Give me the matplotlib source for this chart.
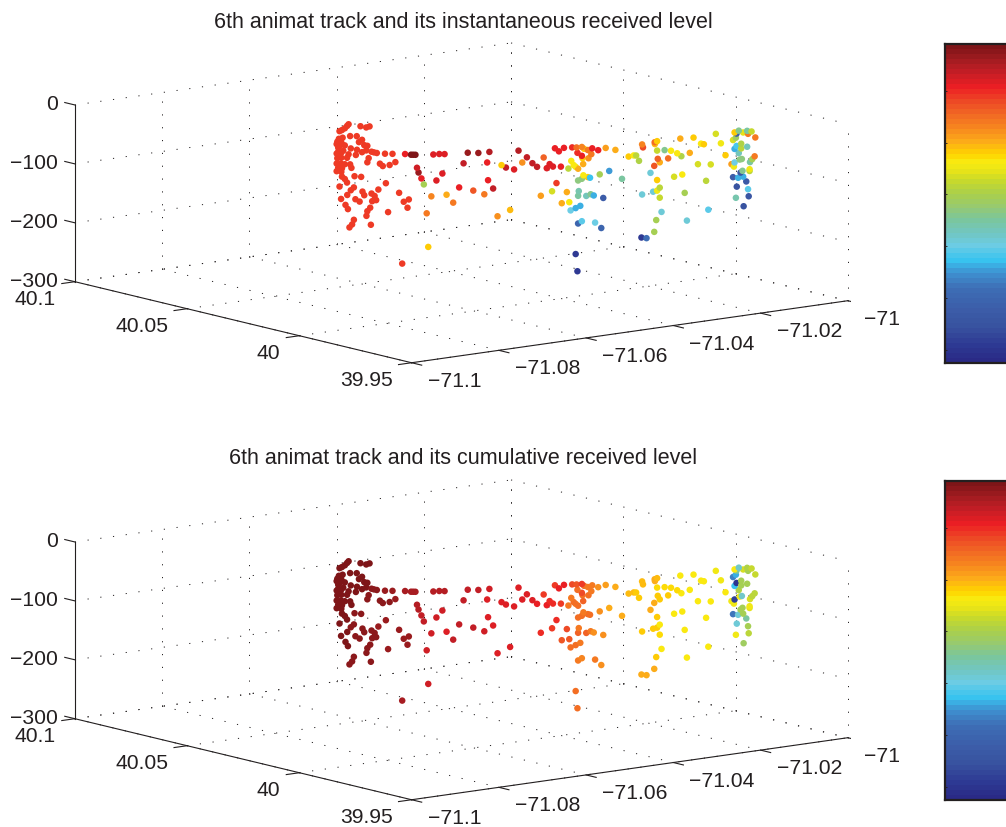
#!/usr/bin/env python
# animat track plots, two 3D scatter panels with jet style colorbars
import matplotlib
matplotlib.use('Agg')
import numpy as np
import matplotlib.pyplot as plt
from matplotlib.colors import LinearSegmentedColormap
from mpl_toolkits.mplot3d import proj3d

plt.rcParams['font.family'] = ['Liberation Sans', 'DejaVu Sans']

lon_ticks = [-71.1, -71.08, -71.06, -71.04, -71.02, -71.0]
lon_labels = ['\u221271.1', '\u221271.08', '\u221271.06', '\u221271.04', '\u221271.02', '\u221271']
lat_ticks = [40.1, 40.05, 40.0, 39.95]
lat_labels = ['40.1', '40.05', '40', '39.95']
depth_ticks = [0, -100, -200, -300]
depth_labels = ['0', '\u2212100', '\u2212200', '\u2212300']
bar_ticks = [0.04, 0.203, 0.366, 0.53, 0.69, 0.853]

# track positions, same for both panels
lon = [-71.0707, -71.0709, -71.0712, -71.0716, -71.0719, -71.0691, -71.0683, -71.0679, -71.0705, -71.0696,
       -71.0715, -71.0720, -71.0722, -71.0717, -71.0723, -71.0719, -71.0716, -71.0712, -71.0721, -71.0689,
       -71.0693, -71.0686, -71.0682, -71.0704, -71.0696, -71.0714, -71.0721, -71.0717, -71.0723, -71.0697,
       -71.0689, -71.0683, -71.0676, -71.0673, -71.0669, -71.0658, -71.0648, -71.0631, -71.0623, -71.0620,
       -71.0617, -71.0593, -71.0585, -71.0578, -71.0707, -71.0709, -71.0722, -71.0717, -71.0723, -71.0717,
       -71.0712, -71.0705, -71.0703, -71.0721, -71.0716, -71.0723, -71.0717, -71.0680, -71.0682, -71.0665,
       -71.0661, -71.0652, -71.0644, -71.0615, -71.0613, -71.0609, -71.0606, -71.0581, -71.0589, -71.0716,
       -71.0712, -71.0709, -71.0699, -71.0690, -71.0657, -71.0719, -71.0700, -71.0704, -71.0709, -71.0667,
       -71.0688, -71.0686, -71.0676, -71.0672, -71.0717, -71.0698, -71.0692, -71.0670, -71.0675, -71.0639,
       -71.0633, -71.0626, -71.0628, -71.0711, -71.0708, -71.0678, -71.0682, -71.0683, -71.0654, -71.0700,
       -71.0702, -71.0706, -71.0677, -71.0596, -71.0575, -71.0602, -71.0600, -71.0635,
       # middle section
       -71.0547, -71.0533, -71.0518, -71.0479, -71.0468, -71.0445, -71.0553, -71.0521, -71.0502, -71.0474,
       -71.0460, -71.0496, -71.0485, -71.0454, -71.0520, -71.0559, -71.0540, -71.0513, -71.0525, -71.0567,
       -71.0507, -71.0490,
       -71.0430, -71.0425, -71.0418, -71.0407, -71.0401, -71.0394, -71.0391, -71.0386, -71.0400, -71.0394,
       -71.0380, -71.0372, -71.0362, -71.0349, -71.0381, -71.0385, -71.0393, -71.0437, -71.0441, -71.0433,
       -71.0422, -71.0408, -71.0405, -71.0402, -71.0412, -71.0399, -71.0392, -71.0392, -71.0386, -71.0383,
       -71.0370, -71.0357, -71.0340, -71.0399, -71.0394, -71.0428, -71.0434, -71.0414, -71.0449, -71.0398,
       -71.0399, -71.0388, -71.0382, -71.0378, -71.0365, -71.0421, -71.0411, -71.0396, -71.0402, -71.0409,
       -71.0399, -71.0394, -71.0376, -71.0368, -71.0402, -71.0400, -71.0314, -71.0307, -71.0313, -71.0312,
       -71.0331, -71.0324, -71.0321, -71.0317, -71.0313,
       # eastern section
       -71.0296, -71.0293, -71.0296, -71.0262, -71.0244, -71.0214, -71.0234, -71.0230, -71.0207,
       -71.0293, -71.0283, -71.0274, -71.0266, -71.0260, -71.0249, -71.0201,
       -71.0292, -71.0289, -71.0278, -71.0297, -71.0302, -71.0238, -71.0221, -71.0259, -71.0270, -71.0293,
       -71.0227, -71.0289, -71.0293, -71.0298, -71.0256, -71.0289, -71.0287, -71.0294, -71.0253, -71.0224,
       -71.0297,
       # cluster at the end
       -71.0189, -71.0183, -71.0186, -71.0177, -71.0172, -71.0166, -71.0171, -71.0161, -71.0191, -71.0187,
       -71.0180, -71.0186, -71.0172, -71.0189, -71.0180, -71.0183, -71.0162, -71.0165, -71.0168, -71.0182,
       -71.0179, -71.0189, -71.0193, -71.0190, -71.0169, -71.0169, -71.0181, -71.0178, -71.0191, -71.0184,
       -71.0177, -71.0173, -71.0186, -71.0171, -71.0170, -71.0187, -71.0177]

lat = [40.0350, 40.0353, 40.0357, 40.0362, 40.0367, 40.0328, 40.0318, 40.0311, 40.0347, 40.0335,
       40.0361, 40.0368, 40.0371, 40.0364, 40.0372, 40.0367, 40.0362, 40.0357, 40.0369, 40.0325,
       40.0331, 40.0321, 40.0315, 40.0346, 40.0334, 40.0360, 40.0369, 40.0364, 40.0372, 40.0337,
       40.0325, 40.0318, 40.0308, 40.0303, 40.0298, 40.0283, 40.0269, 40.0246, 40.0235, 40.0231,
       40.0227, 40.0194, 40.0183, 40.0173, 40.0350, 40.0353, 40.0371, 40.0363, 40.0372, 40.0364,
       40.0357, 40.0347, 40.0345, 40.0369, 40.0362, 40.0372, 40.0363, 40.0313, 40.0315, 40.0292,
       40.0287, 40.0274, 40.0264, 40.0224, 40.0221, 40.0216, 40.0211, 40.0177, 40.0188, 40.0362,
       40.0357, 40.0353, 40.0339, 40.0327, 40.0281, 40.0367, 40.0340, 40.0346, 40.0352, 40.0295,
       40.0325, 40.0321, 40.0308, 40.0302, 40.0364, 40.0337, 40.0330, 40.0299, 40.0307, 40.0257,
       40.0248, 40.0239, 40.0241, 40.0356, 40.0351, 40.0310, 40.0315, 40.0317, 40.0277, 40.0340,
       40.0344, 40.0348, 40.0309, 40.0197, 40.0170, 40.0206, 40.0203, 40.0251,
       # middle section
       40.0130, 40.0110, 40.0090, 40.0036, 40.0020, 39.9990, 40.0137, 40.0094, 40.0067, 40.0029,
       40.0011, 40.0059, 40.0044, 40.0002, 40.0092, 40.0145, 40.0119, 40.0083, 40.0099, 40.0156,
       40.0075, 40.0052,
       39.9969, 39.9961, 39.9952, 39.9937, 39.9929, 39.9919, 39.9915, 39.9908, 39.9927, 39.9919,
       39.9900, 39.9889, 39.9875, 39.9857, 39.9902, 39.9907, 39.9918, 39.9979, 39.9984, 39.9972,
       39.9958, 39.9939, 39.9934, 39.9931, 39.9944, 39.9926, 39.9917, 39.9916, 39.9908, 39.9904,
       39.9886, 39.9869, 39.9845, 39.9926, 39.9919, 39.9966, 39.9974, 39.9947, 39.9995, 39.9925,
       39.9926, 39.9911, 39.9903, 39.9897, 39.9880, 39.9956, 39.9942, 39.9922, 39.9931, 39.9940,
       39.9926, 39.9919, 39.9895, 39.9883, 39.9931, 39.9927, 39.9809, 39.9800, 39.9808, 39.9806,
       39.9833, 39.9824, 39.9819, 39.9814, 39.9808,
       # eastern section
       39.9785, 39.9780, 39.9784, 39.9737, 39.9713, 39.9672, 39.9699, 39.9694, 39.9663,
       39.9780, 39.9766, 39.9755, 39.9743, 39.9736, 39.9720, 39.9654,
       39.9779, 39.9776, 39.9760, 39.9785, 39.9792, 39.9705, 39.9681, 39.9734, 39.9749, 39.9780,
       39.9690, 39.9776, 39.9780, 39.9788, 39.9729, 39.9776, 39.9772, 39.9782, 39.9725, 39.9686,
       39.9785,
       # cluster at the end
       39.9637, 39.9630, 39.9634, 39.9622, 39.9614, 39.9606, 39.9612, 39.9599, 39.9640, 39.9635,
       39.9625, 39.9634, 39.9614, 39.9637, 39.9625, 39.9630, 39.9600, 39.9605, 39.9609, 39.9628,
       39.9624, 39.9637, 39.9643, 39.9638, 39.9609, 39.9609, 39.9626, 39.9623, 39.9640, 39.9631,
       39.9622, 39.9616, 39.9633, 39.9612, 39.9611, 39.9635, 39.9620]

depth = [-4, -7, -11, -14, -16, -7, -9, -7, -24, -24,
         -27, -29, -34, -34, -38, -41, -38, -40, -44, -30,
         -34, -39, -40, -45, -47, -49, -51, -53, -54, -56,
         -51, -48, -50, -51, -52, -53, -53, -53, -54, -54,
         -54, -53, -52, -52, -55, -61, -62, -61, -71, -71,
         -72, -72, -78, -78, -79, -84, -85, -61, -68, -70,
         -74, -72, -67, -76, -84, -94, -104, -85, -97, -93,
         -97, -103, -92, -93, -103, -110, -111, -116, -124, -114,
         -118, -124, -121, -125, -131, -131, -135, -132, -134, -119,
         -134, -130, -144, -141, -148, -145, -151, -159, -152, -166,
         -174, -179, -174, -124, -121, -153, -210, -239,
         # middle section
         -49, -49, -47, -44, -55, -55, -67, -65, -69, -64,
         -65, -73, -76, -71, -95, -108, -113, -109, -119, -134,
         -156, -145,
         -39, -44, -38, -37, -37, -36, -39, -41, -46, -51,
         -38, -41, -37, -40, -48, -55, -55, -66, -73, -70,
         -70, -60, -67, -70, -73, -73, -65, -84, -87, -88,
         -82, -76, -89, -93, -90, -98, -112, -113, -120, -111,
         -119, -119, -116, -118, -122, -132, -130, -136, -140, -144,
         -166, -162, -164, -173, -218, -247, -188, -189, -30, -35,
         -51, -49, -49, -58, -115,
         # eastern section
         -26, -24, -29, -19, -17, -10, -27, -28, -26,
         -40, -39, -40, -44, -49, -43, -46,
         -54, -60, -53, -66, -78, -62, -62, -80, -84, -90,
         -90, -103, -108, -110, -111, -120, -144, -158, -158, -139,
         -178,
         # cluster at the end
         -7, -4, -9, -7, -4, -5, -9, -15, -20, -16,
         -26, -30, -31, -35, -34, -42, -47, -52, -57, -53,
         -52, -58, -61, -65, -69, -72, -75, -72, -83, -84,
         -82, -90, -99, -103, -115, -118, -132]

# colour values read against the colorbar (0 bottom, 1 top)
inst_level = [.84, .84, .84, .84, .84, .84, .84, .84, .84, .84,
              .84, .84, .84, .84, .84, .84, .84, .84, .84, .84,
              .84, .84, .84, .84, .84, .84, .84, .84, .84, .84,
              .84, .84, .84, .84, .84, .84, .84, .86, .985, .985,
              .985, .89, .89, .89, .84, .84, .84, .84, .84, .84,
              .84, .84, .84, .84, .84, .84, .84, .84, .84, .84,
              .84, .84, .84, .90, .96, .87, .53, .89, .89, .84,
              .84, .84, .84, .84, .84, .84, .84, .84, .84, .84,
              .84, .84, .84, .84, .84, .84, .84, .84, .84, .84,
              .84, .84, .84, .84, .84, .84, .84, .84, .84, .84,
              .84, .84, .84, .74, .70, .75, .66, .84,
              # middle section
              .96, .96, .93, .93, .92, .79, .92, .87, .66, .72,
              .92, .91, .88, .91, .87, .87, .80, .92, .75, .76,
              .73, .68,
              .87, .87, .87, .85, .78, .74, .66, .76, .85, .86,
              .87, .87, .71, .70, .76, .72, .66, .88, .88, .88,
              .87, .63, .63, .62, .55, .69, .69, .64, .66, .32,
              .53, .29, .45, .47, .47, .84, .58, .70, .71, .43,
              .45, .42, .46, .30, .17, .70, .63, .31, .31, .37,
              .20, .35, .37, .19, .05, .05, .05, .22, .74, .82,
              .67, .63, .55, .54, .39,
              # eastern section
              .78, .67, .68, .70, .66, .58, .63, .67, .62,
              .57, .46, .64, .64, .54, .69, .67,
              .79, .70, .77, .81, .38, .58, .58, .63, .58, .66,
              .56, .55, .62, .39, .53, .57, .38, .52, .39, .35,
              .53,
              # cluster at the end
              .67, .46, .17, .60, .44, .57, .76, .76, .58, .50,
              .54, .34, .42, .31, .55, .42, .75, .53, .44, .47,
              .47, .37, .71, .62, .62, .55, .14, .46, .17, .31,
              .31, .15, .11, .35, .14, .43, .12]

cum_level = [.985, .985, .985, .985, .985, .985, .985, .985, .985, .985,
             .985, .985, .985, .985, .985, .985, .985, .985, .985, .985,
             .985, .985, .985, .985, .985, .985, .985, .985, .985, .985,
             .985, .985, .975, .975, .975, .96, .96, .945, .94, .94,
             .94, .925, .925, .925, .985, .985, .985, .985, .985, .985,
             .985, .985, .985, .985, .985, .985, .985, .975, .975, .97,
             .97, .97, .96, .925, .925, .915, .915, .905, .905, .985,
             .985, .985, .98, .98, .965, .985, .98, .98, .985, .965,
             .975, .975, .97, .97, .985, .98, .98, .97, .97, .955,
             .955, .955, .955, .985, .985, .97, .97, .97, .96, .98,
             .98, .98, .97, .905, .875, .905, .905, .95,
             # middle section
             .915, .91, .90, .885, .885, .84, .92, .885, .875, .875,
             .875, .875, .875, .87, .89, .915, .91, .885, .90, .91,
             .875, .875,
             .84, .87, .86, .82, .80, .83, .78, .76, .78, .82,
             .75, .73, .71, .70, .75, .77, .78, .85, .86, .85,
             .83, .76, .77, .76, .76, .77, .79, .75, .77, .77,
             .72, .70, .69, .78, .78, .85, .84, .82, .85, .76,
             .79, .79, .75, .73, .72, .81, .80, .76, .77, .78,
             .76, .74, .75, .72, .78, .77, .69, .69, .68, .68,
             .68, .68, .67, .67, .66,
             # eastern section
             .69, .68, .69, .64, .64, .62, .64, .64, .62,
             .65, .65, .65, .65, .64, .64, .63,
             .66, .66, .66, .69, .69, .63, .63, .63, .64, .67,
             .63, .64, .66, .67, .63, .65, .64, .67, .63, .63,
             .69,
             # cluster at the end
             .63, .40, .46, .58, .54, .57, .53, .57, .25, .31,
             .52, .04, .53, .32, .53, .54, .56, .56, .58, .62,
             .40, .07, .62, .62, .62, .60, .52, .53, .24, .39,
             .52, .44, .38, .53, .55, .62, .50]

# printed jet, colours
cmap = LinearSegmentedColormap.from_list('printed_jet', [
    (0.0, '#2a2a86'), (0.05, '#2e3a94'), (0.105, '#38529f'), (0.157, '#3c5ca8'),
    (0.23, '#3e6fb6'), (0.28, '#3f93d2'), (0.318, '#38c4f0'), (0.365, '#6ccde5'),
    (0.407, '#72c6c0'), (0.449, '#7cc69c'), (0.49, '#98ca70'), (0.532, '#aad04c'),
    (0.574, '#c8da2c'), (0.605, '#e8e418'), (0.632, '#f9ec12'), (0.658, '#ffd400'),
    (0.70, '#fcaa1a'), (0.741, '#f7871f'), (0.783, '#f26a24'), (0.825, '#ee4a26'),
    (0.87, '#ed1f24'), (0.918, '#c41e26'), (0.96, '#a01c20'), (1.0, '#7e1518')], N=64)

W, H = 1006.0, 827.0
DARK = '#231f20'
DOTS = (0, (1.2, 12))


def line3d(ax, xs, ys, zs, **kw):
    ax.plot(xs, ys, zs, **kw)


def label3d(ax, x, y, z, text, dx, dy, ha):
    # put a tick label a few pixels away from its tick
    x2, y2, _ = proj3d.proj_transform(x, y, z, ax.get_proj())
    ax.annotate(text, (x2, y2), xytext=(dx, dy), textcoords='offset pixels', ha=ha, va='center',
                fontsize=15.2, color=DARK, annotation_clip=False)


def draw_panel(top_shift, level, title):
    side = 800.0
    left = 50.5
    bottom_px = 613.65 + top_shift
    ax = fig.add_axes([left / W, (H - bottom_px) / H, side / W, side / H],
                      projection='3d', proj_type='ortho')
    ax.set_box_aspect((550, 552.4, 179.8), zoom=0.971)
    ax.view_init(elev=10.66, azim=-127.55)
    ax.computed_zorder = False
    ax.set_axis_off()
    ax.patch.set_visible(False)

    grid = dict(color=DARK, lw=0.7, ls=DOTS, zorder=1)
    for t in lon_ticks:
        line3d(ax, [t, t], [40.1, 39.95], [-300, -300], **grid)
        line3d(ax, [t, t], [40.1, 40.1], [-300, 0], **grid)
    for t in lat_ticks:
        line3d(ax, [-71.1, -71.0], [t, t], [-300, -300], **grid)
        line3d(ax, [-71.0, -71.0], [t, t], [-300, 0], **grid)
    for t in depth_ticks:
        line3d(ax, [-71.1, -71.0], [40.1, 40.1], [t, t], **grid)
        line3d(ax, [-71.0, -71.0], [40.1, 39.95], [t, t], **grid)

    solid = dict(color=DARK, lw=0.8, zorder=2)
    line3d(ax, [-71.1, -71.1], [40.1, 40.1], [-300, 0], **solid)
    line3d(ax, [-71.1, -71.1], [40.1, 39.95], [-300, -300], **solid)
    line3d(ax, [-71.1, -71.0], [39.95, 39.95], [-300, -300], **solid)
    for t in lon_ticks:
        line3d(ax, [t, t], [39.95, 39.9455], [-300, -300], **solid)
    for t in lat_ticks:
        line3d(ax, [-71.1, -71.103], [t, t], [-300, -300], **solid)
    for t in depth_ticks:
        line3d(ax, [-71.1, -71.1], [40.1, 40.1045], [t, t], **solid)

    ax.scatter(lon, lat, depth, c=level, cmap=cmap, vmin=0, vmax=1, s=22,
               linewidths=0, depthshade=False, zorder=3)

    ax.set_xlim(-71.1, -71.0, view_margin=0)
    ax.set_ylim(39.95, 40.1, view_margin=0)
    ax.set_zlim(-300, 0, view_margin=0)

    for t, s in zip(lon_ticks, lon_labels):
        label3d(ax, t, 39.95, -300, s, 16, -18.5, 'left')
    for t, s in zip(lat_ticks, lat_labels):
        label3d(ax, -71.1, t, -300, s, -19, -18, 'right')
    for t, s in zip(depth_ticks, depth_labels):
        label3d(ax, -71.1, 40.1, t, s, -17, 0.5, 'right')

    fig.text(463.5 / W, 1 - (22 + top_shift) / H, title, ha='center', va='center',
             fontsize=15.5, color=DARK)

    # colorbar runs off the right edge of the page
    cax = fig.add_axes([944.5 / W, 1 - (363 + top_shift) / H, 80 / W, 319 / H])
    steps = np.linspace(0, 1, 64).reshape(-1, 1)
    cax.imshow(steps, cmap=cmap, vmin=0, vmax=1, aspect='auto', origin='lower',
               extent=[0, 1, 0, 1], interpolation='nearest')
    cax.set_xticks([])
    cax.set_yticks(bar_ticks)
    cax.set_yticklabels([])
    cax.tick_params(axis='y', direction='in', length=1.6, width=0.6, color=DARK)
    for sp in cax.spines.values():
        sp.set_linewidth(1.6)
        sp.set_color(DARK)


fig = plt.figure(figsize=(W / 100, H / 100), dpi=100)
draw_panel(0, inst_level, '6th animat track and its instantaneous received level')
draw_panel(437, cum_level, '6th animat track and its cumulative received level')
fig.savefig('out.png', dpi=100)
